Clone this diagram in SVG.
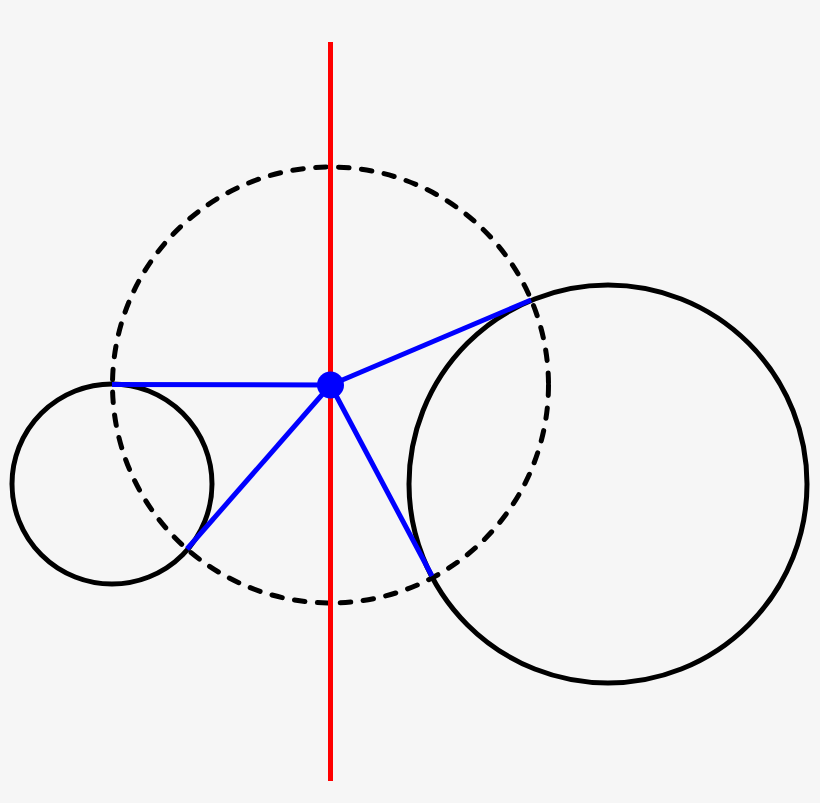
<svg xmlns="http://www.w3.org/2000/svg" width="820" height="803" viewBox="0 0 820 803">
<style>
.c{fill:none;stroke:#000;stroke-width:5}
.d{fill:none;stroke:#000;stroke-width:5;stroke-dasharray:10.5 12.5;stroke-linecap:round}
.b{stroke:#0000ff;stroke-width:5;fill:none}
</style>
<rect width="820" height="803" fill="#f6f6f6"/>
<g id="small-circle"><circle class="c" cx="112" cy="484" r="100"/></g>
<g id="big-circle"><circle class="c" cx="608" cy="484" r="199"/></g>
<g id="orthogonal-circle"><circle class="d" cx="330.5" cy="385" r="218"/></g>
<g id="connectors">
<line x1="330.5" y1="42" x2="330.5" y2="781" stroke="#ff0000" stroke-width="5"/>
<line class="b" x1="330.5" y1="385" x2="112" y2="384.5"/>
<line class="b" x1="330.5" y1="385" x2="187" y2="549"/>
<line class="b" x1="330.5" y1="385" x2="531" y2="300"/>
<line class="b" x1="330.5" y1="385" x2="432" y2="576"/>
</g>
<g id="radical-center"><circle cx="330.5" cy="385" r="13.5" fill="#0000ff"/></g>
</svg>
